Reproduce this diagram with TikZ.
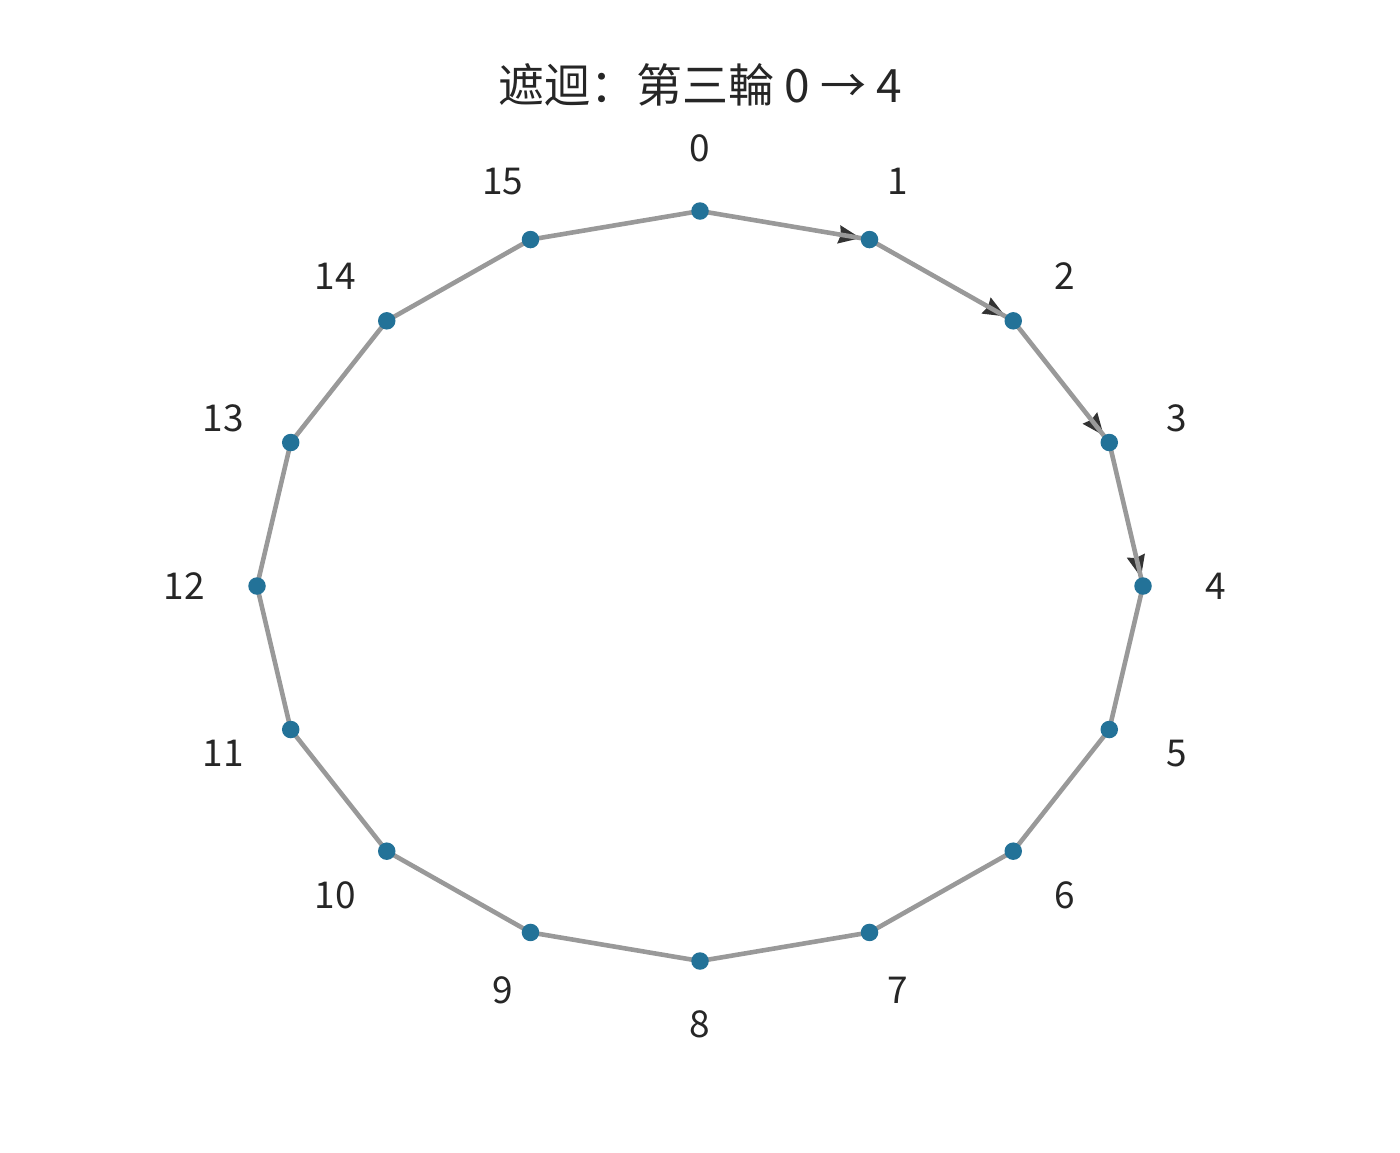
\documentclass[tikz,border=0pt]{standalone}
\usepackage{fontspec}
\setmainfont{Noto Sans CJK SC}
\usetikzlibrary{arrows.meta}
\pgfdeclarelayer{bg}
\pgfsetlayers{bg,main}
\definecolor{dotc}{RGB}{35,114,152}
\definecolor{edgec}{RGB}{153,153,153}
\definecolor{arrc}{RGB}{51,51,51}
\definecolor{txt}{RGB}{38,38,38}
\begin{document}
\begin{tikzpicture}[x=1pt,y=-1pt,
 vdot/.style={circle,fill=dotc,minimum size=17.5pt,inner sep=0pt},
 vlabel/.style={text=txt,font=\fontsize{37}{40}\selectfont,inner sep=0pt},
 edge/.style={draw=edgec,line width=4.6pt},
 arr/.style={draw=arrc,line width=3pt,-{Stealth[length=22pt,width=18pt,inset=2pt]}}]
\useasboundingbox (0,0) rectangle (1400,1152);
\node[text=txt,font=\fontsize{46}{52}\selectfont,inner sep=0pt] (title) at (700,85) {遮迴：第三輪 0 → 4};
\foreach \i in {0,...,15}{
 \pgfmathsetmacro\a{\i*22.5}
 \node[vdot] (n\i) at ({700+443*sin(\a)},{586-375*cos(\a)}) {};
 \node[vlabel] (l\i) at ({700+516*sin(\a)},{586-438*cos(\a)}) {\i};
}
\begin{pgfonlayer}{bg}
\foreach \i/\j in {0/1,1/2,2/3,3/4} \draw[arr] (n\i) -- (n\j);
\foreach \i [evaluate=\i as \j using {int(mod(\i+1,16))}] in {0,...,15} \draw[edge] (n\i.center) -- (n\j.center);
\end{pgfonlayer}
\end{tikzpicture}
\end{document}
